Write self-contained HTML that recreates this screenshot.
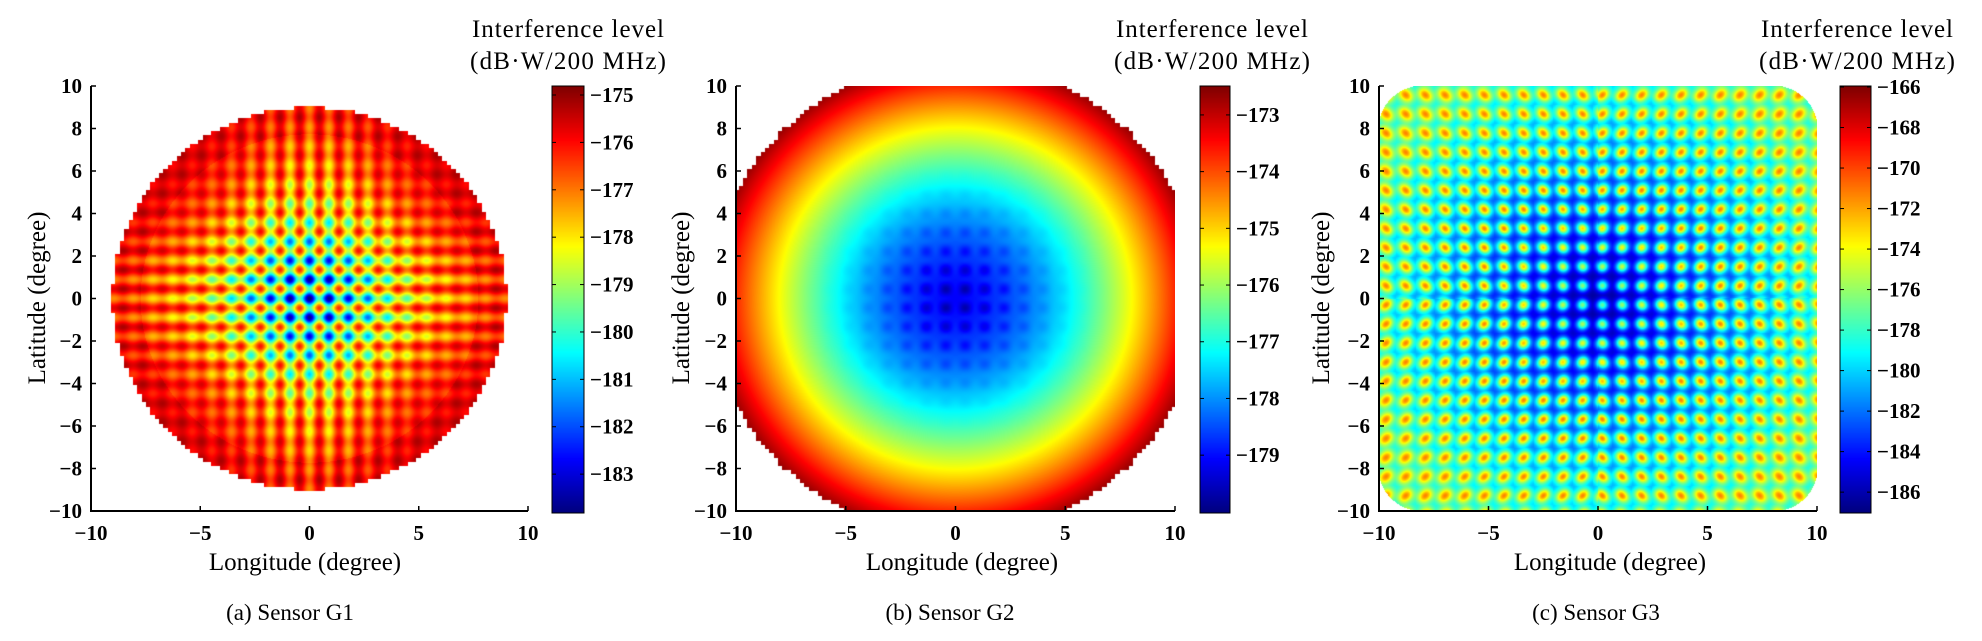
<!DOCTYPE html>
<html><head><meta charset="utf-8"><style>
html,body{margin:0;padding:0;background:#fff;width:1982px;height:641px;overflow:hidden}
canvas{position:absolute}
svg{position:absolute;left:0;top:0}
text{font-family:"Liberation Serif",serif;fill:#000}
.t{font-size:21px;font-weight:bold}
.l{font-size:25px}
</style></head><body>
<canvas id="ca" style="left:91px;top:86px" width="437" height="425"></canvas>
<canvas id="cb" style="left:736px;top:86px" width="439" height="425"></canvas>
<canvas id="cc" style="left:1379px;top:86px" width="438" height="425"></canvas>
<canvas id="ba" style="left:552px;top:86px" width="32" height="427"></canvas>
<canvas id="bb" style="left:1200px;top:86px" width="30" height="427"></canvas>
<canvas id="bc" style="left:1840px;top:86px" width="31" height="427"></canvas>
<svg id="s" width="1982" height="641" xmlns="http://www.w3.org/2000/svg"></svg>
<script>
function jet(t){t=Math.max(0,Math.min(1,t));function c(v){return Math.max(0,Math.min(1,v))*255|0}
return [c(1.5-Math.abs(4*t-3)),c(1.5-Math.abs(4*t-2)),c(1.5-Math.abs(4*t-1))];}
function draw(id,fn,vmax,vmin){var cv=document.getElementById(id),ctx=cv.getContext('2d'),W=cv.width,H=cv.height;
var im=ctx.createImageData(W,H),d=im.data;
for(var j=0;j<H;j++)for(var i=0;i<W;i++){var x=-10+20*i/(W-1),y=10-20*j/(H-1);var v=fn(x,y);var k=(j*W+i)*4;
if(v===null){d[k]=d[k+1]=d[k+2]=255;d[k+3]=255;continue;}
var c=jet((v-vmin)/(vmax-vmin));d[k]=c[0];d[k+1]=c[1];d[k+2]=c[2];d[k+3]=255;}
ctx.putImageData(im,0,0);}
function bar(id){var cv=document.getElementById(id),ctx=cv.getContext('2d'),W=cv.width,H=cv.height;
for(var j=0;j<H;j++){var c=jet(1-j/(H-1));ctx.fillStyle='rgb('+c+')';ctx.fillRect(0,j,W,1);}}
function q(v){return Math.round(v/0.2)*0.2;}
var P=0.9;
// panel a
draw('ca',function(x,y){var qx=q(x),qy=q(y);if(qx*qx+qy*qy>81.5)return null;
var sx=0.5+0.5*Math.cos(2*Math.PI*(x-0.45)/P),sy=0.5+0.5*Math.cos(2*Math.PI*(y-0.45)/P);
var ax=2.9*Math.exp(-x*x/14)+0.5,ay=2.9*Math.exp(-y*y/14)+0.5;
var r2=x*x+y*y;var v=-175.4-1.0*Math.exp(-r2/25)-(1-sx)*ax*(0.35+0.65*Math.exp(-y*y/40))-(1-sy)*ay*(0.35+0.65*Math.exp(-x*x/40));
v-=0.8*(1-sx)*(1-sy)*Math.exp(-r2/16);
if(r2>60)v+=0.25;return v;},-174.81,-183.82);
// panel b
draw('cb',function(x,y){var qx=q(x),qy=q(y);if(qx*qx+qy*qy>125)return null;
var r=Math.sqrt(x*x+y*y);var v=-179.6+6.9*Math.pow(r/11.2,1.45);
var sx=0.5+0.5*Math.cos(2*Math.PI*(x-0.45)/P),sy=0.5+0.5*Math.cos(2*Math.PI*(y-0.45)/P);
v+=-0.7*(sx*sy)*Math.exp(-r*r/12)+0.5*Math.exp(-r*r/14);
return v;},-172.49,-180.02);
// panel c
draw('cc',function(x,y){var ex=Math.max(0,Math.abs(x)-8),ey=Math.max(0,Math.abs(y)-8);if(ex*ex+ey*ey>4.2)return null;
var r=Math.sqrt(x*x+y*y);var bg=-186.4+8.0*Math.min(1,Math.pow(r/11.5,1.2));
var fx=(x-0.2)/P,fy=(y+0.3)/P;var dx=(fx-Math.round(fx))*P,dy=(fy-Math.round(fy))*P;
var sx=0.5+0.5*Math.cos(2*Math.PI*fx),sy=0.5+0.5*Math.cos(2*Math.PI*fy);
bg+=1.6*(sx+sy)*(0.3+0.7*Math.min(1,r/6));
var a=x*y>0?1:-1;var u=(dx+a*dy)/1.414,w=(dx-a*dy)/1.414;var e=Math.min(1,r/10)*0.5;
var d2=u*u/(0.065*(1+e))+w*w/(0.065*(1-e*0.6));
var sp=Math.exp(-d2*1.0);var amp=Math.min(1,0.55+r/12);
return bg+(-171.3-bg)*sp*amp;},-165.95,-187.03);
bar('ba');bar('bb');bar('bc');
var S=document.getElementById('s'),h='';
function T(x,y,s,cls,anc,extra){h+='<text x="'+x+'" y="'+y+'" class="'+cls+'" text-anchor="'+(anc||'middle')+'" '+(extra||'')+'>'+s+'</text>';}
function panel(L,R,cbL,cbR,vmax,vmin,ticks,ylx,xlc,capc,cap,tc){
var Tp=86,B=511;
h+='<line x1="'+L+'" y1="'+Tp+'" x2="'+L+'" y2="'+(B+1)+'" stroke="#000" stroke-width="2"/>';
h+='<line x1="'+L+'" y1="'+B+'" x2="'+R+'" y2="'+B+'" stroke="#000" stroke-width="2"/>';
for(var k=-10;k<=10;k+=5){var xx=L+(R-L)*(k+10)/20;h+='<line x1="'+xx+'" y1="'+B+'" x2="'+xx+'" y2="'+(B-5)+'" stroke="#000" stroke-width="1.5"/>';
T(xx,540,k<0?'\u2212'+(-k):k,'t');}
for(var k=-10;k<=10;k+=2){var yy=B-(B-Tp)*(k+10)/20;h+='<line x1="'+L+'" y1="'+yy+'" x2="'+(L+5)+'" y2="'+yy+'" stroke="#000" stroke-width="1.5"/>';
T(L-9,yy+7,k<0?'\u2212'+(-k):k,'t','end');}
h+='<rect x="'+cbL+'" y="86" width="'+(cbR-cbL)+'" height="427" fill="none" stroke="#000" stroke-width="1"/>';
ticks.forEach(function(v){var yy=86+427*(vmax-v)/(vmax-vmin);
h+='<line x1="'+cbL+'" y1="'+yy+'" x2="'+(cbL+4)+'" y2="'+yy+'" stroke="#000"/><line x1="'+cbR+'" y1="'+yy+'" x2="'+(cbR-4)+'" y2="'+yy+'" stroke="#000"/>';
T(cbR+6,yy+7,'\u2212'+(-v),'t','start');});
T(ylx,298,'Latitude (degree)','l','middle','transform="rotate(-90 '+ylx+' 298)" dy="9"');
T(xlc,570,'Longitude (degree)','l');
T(capc,620,cap,'l','middle','style="font-size:23px"');
T(tc,37,'Interference level','l','middle','textLength="192"');
T(tc,69,'(dB\u00b7W/200 MHz)','l','middle','textLength="196"');}
panel(91,528,552,584,-174.81,-183.82,[-175,-176,-177,-178,-179,-180,-181,-182,-183],36,305,290,'(a) Sensor G1',568);
panel(736,1175,1200,1230,-172.49,-180.02,[-173,-174,-175,-176,-177,-178,-179],680,962,950,'(b) Sensor G2',1212);
panel(1379,1817,1840,1871,-165.95,-187.03,[-166,-168,-170,-172,-174,-176,-178,-180,-182,-184,-186],1320,1610,1596,'(c) Sensor G3',1857);
S.innerHTML=h;
</script>
</body></html>
